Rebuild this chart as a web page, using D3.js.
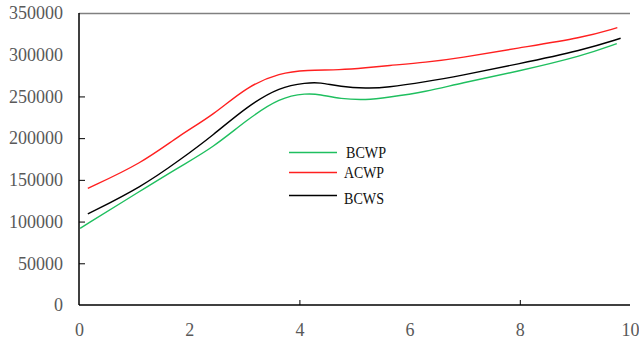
<!DOCTYPE html>
<html>
<head>
<meta charset="utf-8">
<script src="https://cdn.jsdelivr.net/npm/d3@7"></script>
<style>
  html, body { margin: 0; padding: 0; background: #fff; }
  svg { display: block; }
</style>
</head>
<body>
<svg id="chart" width="639" height="339"></svg>
<script>
// ---- data ----
const seriesNames = ["BCWP", "ACWP", "BCWS"];
const bcwpX = [0.02, 1.14, 1.83, 2.44, 3.04, 3.65, 4.13, 4.37, 4.74, 5.22, 5.58, 6.31, 6.91, 7.94, 9.15, 9.76];
const bcwpY = [91900, 137800, 165800, 189000, 221700, 248900, 253700, 252500, 246900, 245700, 248500, 255700, 265700, 279600, 298800, 313200];
const acwpX = [0.16, 1.14, 1.83, 2.44, 3.04, 3.65, 4.13, 4.74, 5.22, 5.58, 6.31, 6.91, 7.94, 9.15, 9.77];
const acwpY = [139900, 169800, 203800, 227700, 261700, 278400, 281700, 281700, 284400, 286800, 290900, 296000, 307700, 320400, 332400];
const bcwsX = [0.16, 1.14, 1.83, 2.44, 3.04, 3.65, 4.13, 4.37, 4.74, 5.22, 5.58, 6.31, 6.91, 7.94, 9.15, 9.83];
const bcwsY = [109100, 141800, 173800, 203800, 237700, 261700, 266400, 266900, 261700, 259700, 260500, 267700, 274800, 288500, 305600, 319700];
const xTickLabels = [0, 2, 4, 6, 8, 10];
const yTickLabels = [0, 50000, 100000, 150000, 200000, 250000, 300000, 350000];
const xInnerTicks = [4, 8];
const yInnerTicks = [50000, 100000, 150000, 200000, 250000];

(function () {
// ---- layout ----
const svg = d3.select("#chart");
const pLeft = 79, pRight = 630, pTop = 13, pBottom = 305;
const x = d3.scaleLinear().domain([0, 10]).range([pLeft, pRight]);
const y = d3.scaleLinear().domain([0, 350000]).range([pBottom, pTop]);
const font = "'Liberation Serif', 'Times New Roman', serif";

// top border (grey)
svg.append("line").attr("x1", pLeft).attr("x2", pRight).attr("y1", pTop + 0.5).attr("y2", pTop + 0.5)
  .attr("stroke", "#808080").attr("stroke-width", 1.5);

// y axis labels
const yAxis = svg.append("g").attr("transform", `translate(${pLeft},0)`)
  .call(d3.axisLeft(y).tickValues(yTickLabels).tickSize(0).tickPadding(16).tickFormat(d3.format("d")));
yAxis.select(".domain").remove();
yAxis.selectAll("text").attr("font-family", font).attr("font-size", 18).attr("fill", "#595959");

// y inner ticks
const yTicks = svg.append("g").attr("transform", `translate(${pLeft},0)`)
  .call(d3.axisLeft(y).tickValues(yInnerTicks).tickSize(-6).tickFormat(""));
yTicks.select(".domain").remove();
yTicks.selectAll("line").attr("stroke", "#000");

// x axis labels
const xAxis = svg.append("g").attr("transform", `translate(0,${pBottom})`)
  .call(d3.axisBottom(x).tickValues(xTickLabels).tickSize(0).tickPadding(18).tickFormat(d3.format("d")));
xAxis.select(".domain").remove();
xAxis.selectAll("text").attr("font-family", font).attr("font-size", 18).attr("fill", "#595959");

// x inner ticks
const xTicks = svg.append("g").attr("transform", `translate(0,${pBottom})`)
  .call(d3.axisBottom(x).tickValues(xInnerTicks).tickSize(-5).tickFormat(""));
xTicks.select(".domain").remove();
xTicks.selectAll("line").attr("stroke", "#000");

// axis lines
svg.append("line").attr("x1", pLeft).attr("x2", pLeft).attr("y1", pTop).attr("y2", pBottom)
  .attr("stroke", "#000").attr("stroke-width", 1.5);
svg.append("line").attr("x1", pLeft).attr("x2", pRight).attr("y1", pBottom).attr("y2", pBottom)
  .attr("stroke", "#000").attr("stroke-width", 1.5);

// series
const series = [
  { name: "BCWP", xs: bcwpX, ys: bcwpY, color: "#1fbf5f" },
  { name: "ACWP", xs: acwpX, ys: acwpY, color: "#ff2020" },
  { name: "BCWS", xs: bcwsX, ys: bcwsY, color: "#000000" }
];
const line = d3.line().x(d => x(d[0])).y(d => y(d[1])).curve(d3.curveBasis);
series.forEach(s => {
  svg.append("path")
    .datum(s.xs.map((v, i) => [v, s.ys[i]]))
    .attr("fill", "none").attr("stroke", s.color).attr("stroke-width", 1.4)
    .attr("d", line);
});

// legend
const legendY = [152.5, 172.5, 195.5];
const textY = [152.5, 172.5, 198];
series.forEach((s, i) => {
  svg.append("line").attr("x1", 289).attr("x2", 337).attr("y1", legendY[i]).attr("y2", legendY[i])
    .attr("stroke", s.color).attr("stroke-width", 1.4);
  svg.append("text").attr("x", i === 0 ? 346 : 344).attr("y", textY[i]).attr("dy", "0.35em")
    .attr("font-family", font).attr("font-size", 16)
    .attr("textLength", 40).attr("lengthAdjust", "spacingAndGlyphs")
    .attr("fill", "#111").text(s.name);
});
})();
</script>
</body>
</html>
